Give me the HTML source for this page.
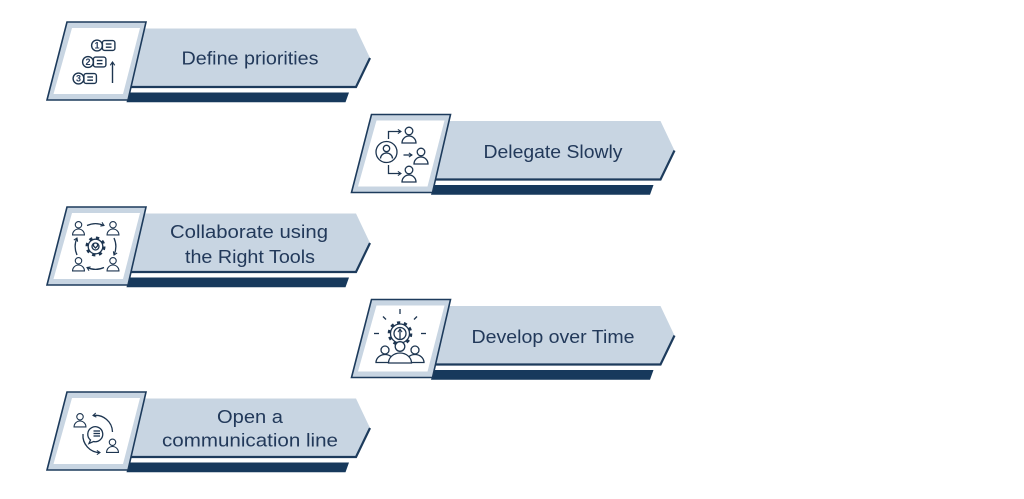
<!DOCTYPE html>
<html><head><meta charset="utf-8"><style>
html,body{margin:0;padding:0;background:#fff;}
svg{display:block;}
text{font-family:"Liberation Sans",sans-serif;font-size:18px;fill:#22395a;text-anchor:middle;}
</style></head><body>
<svg width="1024" height="499" viewBox="0 0 1024 499" xmlns="http://www.w3.org/2000/svg">
<defs>
<marker id="ah" viewBox="0 0 10 10" refX="7" refY="5" markerWidth="4" markerHeight="4" orient="auto">
<path d="M1,1 L7,5 L1,9" fill="none" stroke="#1d3550" stroke-width="2"/>
</marker>
<g id="blk">
<polygon points="129,92.5 349,92.5 345.5,102.3 126.5,102.3" fill="#17395c"/>
<polygon points="138,28.5 356,28.5 370,58 356,87 128,87" fill="#c8d5e2"/>
<polyline points="128,87 356,87 370,58" fill="none" stroke="#1d3b5c" stroke-width="2.2"/>
<polygon points="67,22 146,22 128,100 47,100" fill="#c8d5e2" stroke="#1d3b5c" stroke-width="1.6"/>
<polygon points="72,28 140,28 123,94 53.5,94" fill="#fff"/>
</g>
<g id="per" fill="#fff" stroke="#1d3550" stroke-width="1.3">
<circle cx="0" cy="-5" r="3.8"/>
<path d="M-7,7 A7,7 0 0 1 7,7 Z"/>
</g>
</defs>

<use href="#blk"/>
<use href="#blk" transform="translate(304.5,92.5)"/>
<use href="#blk" transform="translate(0,185)"/>
<use href="#blk" transform="translate(304.5,277.5)"/>
<use href="#blk" transform="translate(0,370)"/>

<!-- texts -->
<text x="250" y="64.5" textLength="137" lengthAdjust="spacingAndGlyphs">Define priorities</text>
<text x="553" y="158" textLength="139" lengthAdjust="spacingAndGlyphs">Delegate Slowly</text>
<text x="249" y="238" textLength="158" lengthAdjust="spacingAndGlyphs">Collaborate using</text>
<text x="250" y="263" textLength="130" lengthAdjust="spacingAndGlyphs">the Right Tools</text>
<text x="553" y="343" textLength="163" lengthAdjust="spacingAndGlyphs">Develop over Time</text>
<text x="250" y="423" textLength="66" lengthAdjust="spacingAndGlyphs">Open a</text>
<text x="250" y="446.5" textLength="176" lengthAdjust="spacingAndGlyphs">communication line</text>

<!-- icon 1 -->
<g fill="none" stroke="#1d3550" stroke-width="1.4">
<circle cx="97" cy="45.5" r="5.4"/>
<rect x="102.4" y="40.6" width="12.5" height="9.8" rx="2.2"/>
<line x1="105.8" y1="44" x2="111.5" y2="44"/><line x1="105.8" y1="47.2" x2="111.5" y2="47.2"/>
<circle cx="88" cy="62" r="5.4"/>
<rect x="93.4" y="57.1" width="12.5" height="9.8" rx="2.2"/>
<line x1="96.8" y1="60.5" x2="102.5" y2="60.5"/><line x1="96.8" y1="63.7" x2="102.5" y2="63.7"/>
<circle cx="78.5" cy="78.5" r="5.4"/>
<rect x="83.9" y="73.6" width="12.5" height="9.8" rx="2.2"/>
<line x1="87.3" y1="77" x2="93" y2="77"/><line x1="87.3" y1="80.2" x2="93" y2="80.2"/>
<line x1="112.5" y1="83" x2="112.5" y2="62" marker-end="url(#ah)"/>
</g>
<text x="97" y="48.7" style="font-size:9px;font-weight:bold">1</text>
<text x="88" y="65.2" style="font-size:9px;font-weight:bold">2</text>
<text x="78.5" y="81.7" style="font-size:9px;font-weight:bold">3</text>

<!-- icon 2 -->
<g fill="none" stroke="#1d3550" stroke-width="1.3">
<circle cx="386.5" cy="152" r="10.5"/>
<circle cx="386.5" cy="148.5" r="3.2"/>
<path d="M380.5,158.5 A6,5.5 0 0 1 392.5,158.5"/>
<polyline points="388.5,139 388.5,131.5 401,131.5" marker-end="url(#ah)"/>
<line x1="403.5" y1="155" x2="412" y2="155" marker-end="url(#ah)"/>
<polyline points="388.5,165 388.5,173.5 401,173.5" marker-end="url(#ah)"/>
</g>
<use href="#per" transform="translate(409,136)"/>
<use href="#per" transform="translate(421,157)"/>
<use href="#per" transform="translate(409,175)"/>

<!-- icon 3 -->
<g fill="none" stroke="#1d3550" stroke-width="1.3">
<circle cx="95.5" cy="246.5" r="8.5" stroke-width="3" stroke-dasharray="3.2 3.5"/>
<circle cx="95.5" cy="246.5" r="7.3"/>
<circle cx="95.5" cy="246.5" r="3.5"/>
<path d="M93.5,243 L93.5,246 L95.5,248 L97.5,246 L97.5,243"/>
<path d="M87,225.5 A21,21 0 0 1 104,225.5" marker-end="url(#ah)"/>
<path d="M114,238 A21,21 0 0 1 114,255" marker-end="url(#ah)"/>
<path d="M104,267.5 A21,21 0 0 1 87,267.5" marker-end="url(#ah)"/>
<path d="M77,255 A21,21 0 0 1 77,238" marker-end="url(#ah)"/>
</g>
<use href="#per" transform="translate(78.5,229) scale(0.85)"/>
<use href="#per" transform="translate(113,229) scale(0.85)"/>
<use href="#per" transform="translate(78.5,265) scale(0.85)"/>
<use href="#per" transform="translate(113,265) scale(0.85)"/>

<!-- icon 4 -->
<g fill="none" stroke="#1d3550" stroke-width="1.3">
<line x1="400" y1="309" x2="400" y2="314"/>
<line x1="383" y1="316.5" x2="386" y2="319.5"/>
<line x1="417" y1="316.5" x2="414" y2="319.5"/>
<line x1="374" y1="333.5" x2="379" y2="333.5"/>
<line x1="421" y1="333.5" x2="426" y2="333.5"/>
<circle cx="400" cy="333.5" r="10.8" stroke-width="3" stroke-dasharray="3.2 3.6"/>
<circle cx="400" cy="333.5" r="9.5"/>
<circle cx="400" cy="333.5" r="6"/>
<line x1="400" y1="339" x2="400" y2="329" marker-end="url(#ah)"/>
</g>
<g fill="#fff" stroke="#1d3550" stroke-width="1.3">
<path d="M376,362.5 A9,8 0 0 1 394,362.5 Z"/>
<circle cx="385" cy="350" r="4"/>
<path d="M406,362.5 A9,8 0 0 1 424,362.5 Z"/>
<circle cx="415" cy="350" r="4"/>
<path d="M388.5,363 A11.5,10 0 0 1 411.5,363 Z"/>
<circle cx="400" cy="346.5" r="4.8"/>
</g>

<!-- icon 5 -->
<g fill="none" stroke="#1d3550" stroke-width="1.3">
<path d="M112.5,432 A17,17 0 0 0 93,415.5" marker-end="url(#ah)"/>
<path d="M83,434 A17,17 0 0 0 100,452.5" marker-end="url(#ah)"/>
<path d="M90.5,440 A7.5,7.5 0 1 1 93.5,441.5 L89,443.5 Z" fill="#fff"/>
<line x1="93.5" y1="431" x2="100" y2="431"/>
<line x1="93.5" y1="433.5" x2="100" y2="433.5"/>
<line x1="93.5" y1="436" x2="100" y2="436"/>
</g>
<use href="#per" transform="translate(80,421) scale(0.85)"/>
<use href="#per" transform="translate(112.5,446.5) scale(0.85)"/>
</svg>
</body></html>
